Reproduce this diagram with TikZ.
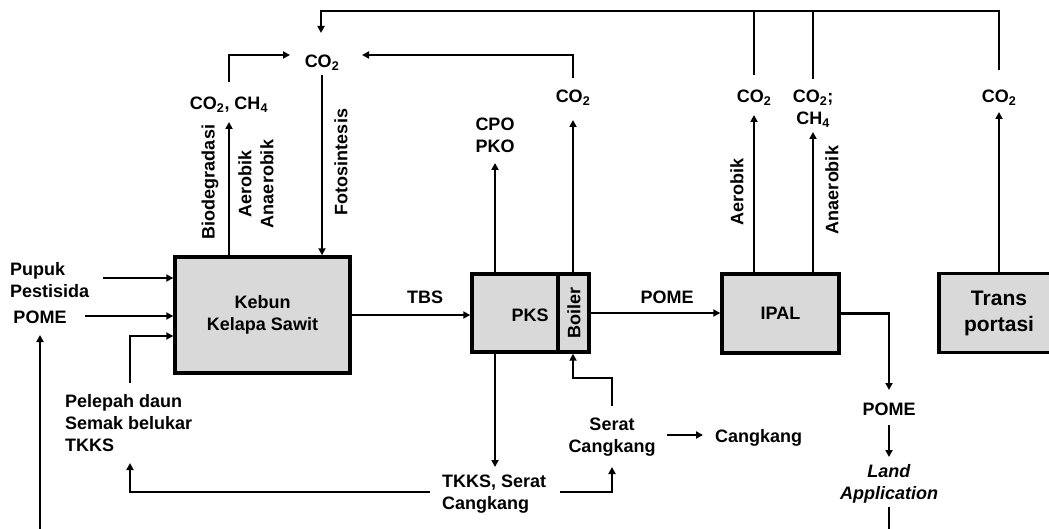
\documentclass[tikz,border=0pt]{standalone}
\usepackage{fontspec}
\setmainfont{Liberation Sans}
\usetikzlibrary{arrows.meta}
\definecolor{boxgray}{HTML}{D9D9D9}
\begin{document}
\begin{tikzpicture}[x=1pt,y=-1pt,
  lbl/.style={font=\fontsize{18}{22}\selectfont\bfseries, inner sep=2pt, align=center},
  box/.style={draw, line width=3.4pt, fill=boxgray, inner sep=0pt, font=\fontsize{18}{22}\selectfont\bfseries, align=center},
  ln/.style={line width=2.6pt},
  arr/.style={line width=2.6pt, -{Triangle[length=7pt,width=7pt]}},
]
\useasboundingbox (0,0) rectangle (1049,529);
\clip (0,0) rectangle (1049,529);

% boxes
\node[box, minimum width=175pt, minimum height=116pt] (kebun) at (262.5,315) {Kebun\\Kelapa Sawit};
\node[box, minimum width=86pt, minimum height=78pt] (pks) at (515,313) {};
\node[lbl] (pkst) at (530,315) {PKS};
\node[box, minimum width=31pt, minimum height=78pt] (boiler) at (573.5,313) {};
\node[lbl, rotate=90] (boilert) at (574,313) {Boiler};
\node[box, minimum width=117pt, minimum height=79pt] (ipal) at (780.5,313.5) {IPAL};
\node[box, minimum width=120pt, minimum height=79pt, font=\fontsize{21}{26}\selectfont\bfseries] (trans) at (999,313) {Trans\\portasi};

% labels
\node[lbl, anchor=west, align=left] (pupuk) at (8,280) {Pupuk\\Pestisida};
\node[lbl] (pome1) at (40,317) {POME};
\node[lbl, anchor=west, align=left] (pelepah) at (63,423) {Pelepah daun\\Semak belukar\\TKKS};
\node[lbl] (cch) at (229,105) {CO\textsubscript{2}, CH\textsubscript{4}};
\node[lbl] (co2c) at (322,63) {CO\textsubscript{2}};
\node[lbl, rotate=90] (bio) at (210,182) {Biodegradasi};
\node[lbl, rotate=90] (aeran) at (256,184) {Aerobik\\Anaerobik};
\node[lbl, rotate=90] (foto) at (341,162) {Fotosintesis};
\node[lbl] (tbs) at (425,297) {TBS};
\node[lbl] (pome2) at (667,297) {POME};
\node[lbl] (cpo) at (495,135) {CPO\\PKO};
\node[lbl] (co2p) at (573,98) {CO\textsubscript{2}};
\node[lbl] (co2a) at (754,98) {CO\textsubscript{2}};
\node[lbl] (co2b) at (813,109) {CO\textsubscript{2};\\CH\textsubscript{4}};
\node[lbl] (co2t) at (999,98) {CO\textsubscript{2}};
\node[lbl, rotate=90] (aer) at (737,192) {Aerobik};
\node[lbl, rotate=90] (anaer) at (832,190) {Anaerobik};
\node[lbl, anchor=west, align=left] (tkks) at (440,494) {TKKS, Serat\\Cangkang};
\node[lbl] (serat) at (612,437) {Serat\\Cangkang};
\node[lbl, anchor=west] (cang) at (713,438) {Cangkang};
\node[lbl] (pome3) at (889,409) {POME};
\node[lbl] (land) at (889,484) {\textit{Land}\\\textit{Application}};

% inputs to kebun
\draw[arr] (103,278) -- (kebun.west |- 0,278);
\draw[arr] (85,316) -- (kebun.west |- 0,316);
\draw[arr] (130,383) -- (130,336) -- (kebun.west |- 0,336);
\draw[arr] (40,540) -- (40,335);

% kebun up
\draw[arr] (229,0 |- kebun.north) -- (229,122);
\draw[arr] (229,82) -- (229,55) -- (290,55);
\draw[arr] (322,75) -- (322,0 |- kebun.north);

% main flow
\draw[arr] (kebun.east) -- (pks.west |- kebun.east);
\draw[arr] (boiler.east) -- (ipal.west |- boiler.east);
\draw[arr] (ipal.east) -- (889,0 |- ipal.east) -- (889,390);
\draw[arr] (889,425) -- (889,457);
\draw[ln] (889,507) -- (889,540);

% pks up
\draw[arr] (495,0 |- pks.north) -- (495,163);
\draw[arr] (573,0 |- boiler.north) -- (573,120);
\draw[arr] (573,78) -- (573,55) -- (362,55);

% pks down
\draw[arr] (495,0 |- pks.south) -- (495,467);
\draw[arr] (430,492) -- (130,492) -- (130,463);
\draw[arr] (560,492) -- (612,492) -- (612,467);
\draw[arr] (612,406) -- (612,378) -- (573,378) -- (573,0 |- boiler.south);
\draw[arr] (667,435) -- (703,435);

% ipal, trans up
\draw[arr] (754,0 |- ipal.north) -- (754,115);
\draw[arr] (813,0 |- ipal.north) -- (813,132);
\draw[arr] (999,0 |- trans.north) -- (999,112);

% top return line
\draw[arr] (999,70) -- (999,11) -- (321,11) -- (321,33);
\draw[ln] (754,75) -- (754,11);
\draw[ln] (813,79) -- (813,11);
\end{tikzpicture}
\end{document}
